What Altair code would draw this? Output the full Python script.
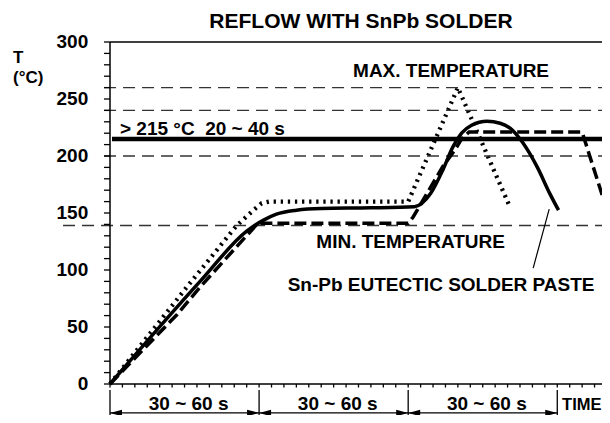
import altair as alt
import pandas as pd

# time axis in "tick units" (12 ticks per 30 ~ 60 s phase), temperature in °C
dot_t = [0, 6.4, 10.2, 10.9, 11.5, 12.2, 12.8, 24.0, 28.0, 32.2]
dot_T = [0, 88, 139, 146, 152, 158.5, 160, 160, 260, 155]

sol_t = [0, 7.25, 11.0, 11.7, 12.4, 13.4, 15.0, 17.0, 21.0, 24.5, 25.8, 26.8,
         27.6, 28.3, 29.1, 30.35, 31.4, 32.2, 33.2, 34.4, 35.4, 36.1]
sol_T = [0, 90, 134, 139.5, 144, 149, 152.5, 154, 154.5, 155.5, 167, 188,
         208, 220, 227, 230.5, 228.7, 224.4, 212, 190, 167, 152.5]

das_t = [0, 5.4, 7.25, 11.9, 24.0, 24.4, 26.8, 27.8, 28.3, 28.9, 38.0, 40.0]
das_T = [0, 61, 85, 141, 141, 146.5, 191, 206, 215, 221, 221, 152.5]

ref_T = [260, 240, 200]
min_T = [139]
liq_T = [215]
phase_edges = [0, 12, 24, 36]
phase_labels = ["30 ~ 60 s", "30 ~ 60 s", "30 ~ 60 s"]
y_ticks = list(range(0, 301, 10))
y_labels = list(range(0, 301, 50))
x_ticks = list(range(0, 40))

FONT = "Liberation Sans"
XMAX = 39.6
XD = [0, XMAX]
YD = [0, 300]
FS = 19

X_SCALE = alt.Scale(domain=XD, nice=False, zero=False)
Y_SCALE = alt.Scale(domain=YD, nice=False, zero=True)

def X(f="t"):
    return alt.X(f + ":Q", scale=X_SCALE, title=None)

def Y(f="T"):
    return alt.Y(f + ":Q", scale=Y_SCALE, title=None)

dot_df = pd.DataFrame({"t": dot_t, "T": dot_T})
sol_df = pd.DataFrame({"t": sol_t, "T": sol_T})
das_df = pd.DataFrame({"t": das_t, "T": das_T})

dotted = alt.Chart(dot_df).mark_line(color="black", strokeWidth=4.3, strokeDash=[2.3, 4.8],
                                     strokeCap="butt").encode(x=X(), y=Y(), order="t:Q")
solid = alt.Chart(sol_df).mark_line(color="black", strokeWidth=3.5, interpolate="monotone").encode(
    x=X(), y=Y(), order="t:Q")
dashed = alt.Chart(das_df).mark_line(color="black", strokeWidth=3.5, strokeDash=[12, 5]).encode(
    x=X(), y=Y(), order="t:Q")

# axes: domain lines, ticks and labels through the scales
axis_style = dict(color="black", strokeWidth=1.5)
y_dom = alt.Chart(pd.DataFrame({"T": [0], "T2": [300]})).mark_rule(**axis_style).encode(
    x=alt.datum(0), y=Y(), y2="T2:Q")
x_dom = alt.Chart(pd.DataFrame({"T": [0]})).mark_rule(**axis_style).encode(
    y=Y(), x=alt.datum(0), x2=alt.datum(XMAX))
top = alt.Chart(pd.DataFrame({"T": [300]})).mark_rule(**axis_style).encode(
    y=Y(), x=alt.datum(0), x2=alt.datum(XMAX))
y_tk = alt.Chart(pd.DataFrame({"T": y_ticks})).mark_rule(color="black", strokeWidth=1.3).encode(
    y=Y(), x=alt.datum(-0.483), x2=alt.datum(0))
x_tk = alt.Chart(pd.DataFrame({"t": x_ticks})).mark_rule(color="black", strokeWidth=1.3).encode(
    x=X(), y=alt.datum(0), y2=alt.datum(-3.1))
y_lab = alt.Chart(pd.DataFrame({"T": y_labels})).mark_text(
    font=FONT, fontWeight="bold", fontSize=FS, align="right", baseline="middle", color="black").encode(
    y=Y(), x=alt.datum(-1.75), text="T:Q")

thin = dict(color="#333333", strokeWidth=1.4, strokeDash=[12, 7])
refs = alt.Chart(pd.DataFrame({"T": ref_T})).mark_rule(**thin).encode(
    y=Y(), x=alt.datum(-0.48), x2=alt.datum(XMAX))
minl = alt.Chart(pd.DataFrame({"T": min_T})).mark_rule(**thin).encode(
    y=Y(), x=alt.datum(-3.78), x2=alt.datum(XMAX))
liq = alt.Chart(pd.DataFrame({"T": liq_T})).mark_rule(color="black", strokeWidth=4.5).encode(
    y=Y(), x=alt.datum(0.16), x2=alt.datum(XMAX))

def txt(s, x, y, size=FS, align="center"):
    return alt.Chart(pd.DataFrame({"s": [s]})).mark_text(
        font=FONT, fontWeight="bold", fontSize=size, align=align, baseline="alphabetic",
        color="black").encode(x=alt.datum(x), y=alt.datum(y), text="s:N")

texts = [
    txt("REFLOW WITH SnPb SOLDER", 20.2, 312.0, size=21),
    txt("MAX. TEMPERATURE", 27.45, 269.3),
    txt("> 215 °C\u00a0 20 ~ 40 s", 0.8, 218.4, align="left"),
    txt("MIN. TEMPERATURE", 24.2, 119.3),
    txt("Sn-Pb EUTECTIC SOLDER PASTE", 26.65, 81.6),
    txt("T", -7.81, 281.6, size=17, align="left"),
    txt("(°C)", -7.81, 264.0, size=17, align="left"),
    txt("TIME", 36.39, -22.8, size=16.5, align="left"),
]

pointer = alt.Chart(pd.DataFrame({"a": [0]})).mark_rule(color="black", strokeWidth=1.2).encode(
    x=alt.datum(34.06), y=alt.datum(101.7), x2=alt.datum(35.35), y2=alt.datum(153.4))

div_df = pd.DataFrame({"t": phase_edges})
dividers = alt.Chart(div_df).mark_rule(color="black", strokeWidth=1.3).encode(
    x=X(), y=alt.datum(-5.3), y2=alt.datum(-28))

seg_df = pd.DataFrame({"t": phase_edges[:-1], "t2": phase_edges[1:], "lab": phase_labels,
                       "mid": [(a + b) / 2 + 0.33 for a, b in zip(phase_edges[:-1], phase_edges[1:])]})
arrow_lines = alt.Chart(seg_df).mark_rule(color="black", strokeWidth=1.3).encode(
    x=X(), x2="t2:Q", y=alt.datum(-25.4))
left_heads = alt.Chart(seg_df).mark_point(shape="M 0 0 L 2 -0.55 L 2 0.55 Z", filled=True, size=144,
                                          color="black", opacity=1, strokeWidth=0).encode(
    x=X(), y=alt.datum(-25.4))
right_heads = alt.Chart(seg_df).mark_point(shape="M 0 0 L -2 -0.55 L -2 0.55 Z", filled=True, size=144,
                                           color="black", opacity=1, strokeWidth=0).encode(
    x=X("t2"), y=alt.datum(-25.4))
seg_text = alt.Chart(seg_df).mark_text(font=FONT, fontWeight="bold", fontSize=FS, align="center",
                                       baseline="alphabetic", color="black").encode(
    x=X("mid"), y=alt.datum(-22.8), text="lab:N")

chart = alt.layer(
    dotted, refs, minl, liq, top, y_dom, x_dom, y_tk, x_tk, y_lab, solid, dashed, pointer,
    dividers, arrow_lines, left_heads, right_heads, seg_text, *texts
).properties(
    width=492, height=342, autosize="none",
    padding={"left": 102, "top": 34, "right": 0, "bottom": 31},
    background="white",
).configure_view(
    stroke=None
).configure_axis(
    disable=True
)

chart.save("out.html", embed_options={"renderer": "svg", "actions": False})
